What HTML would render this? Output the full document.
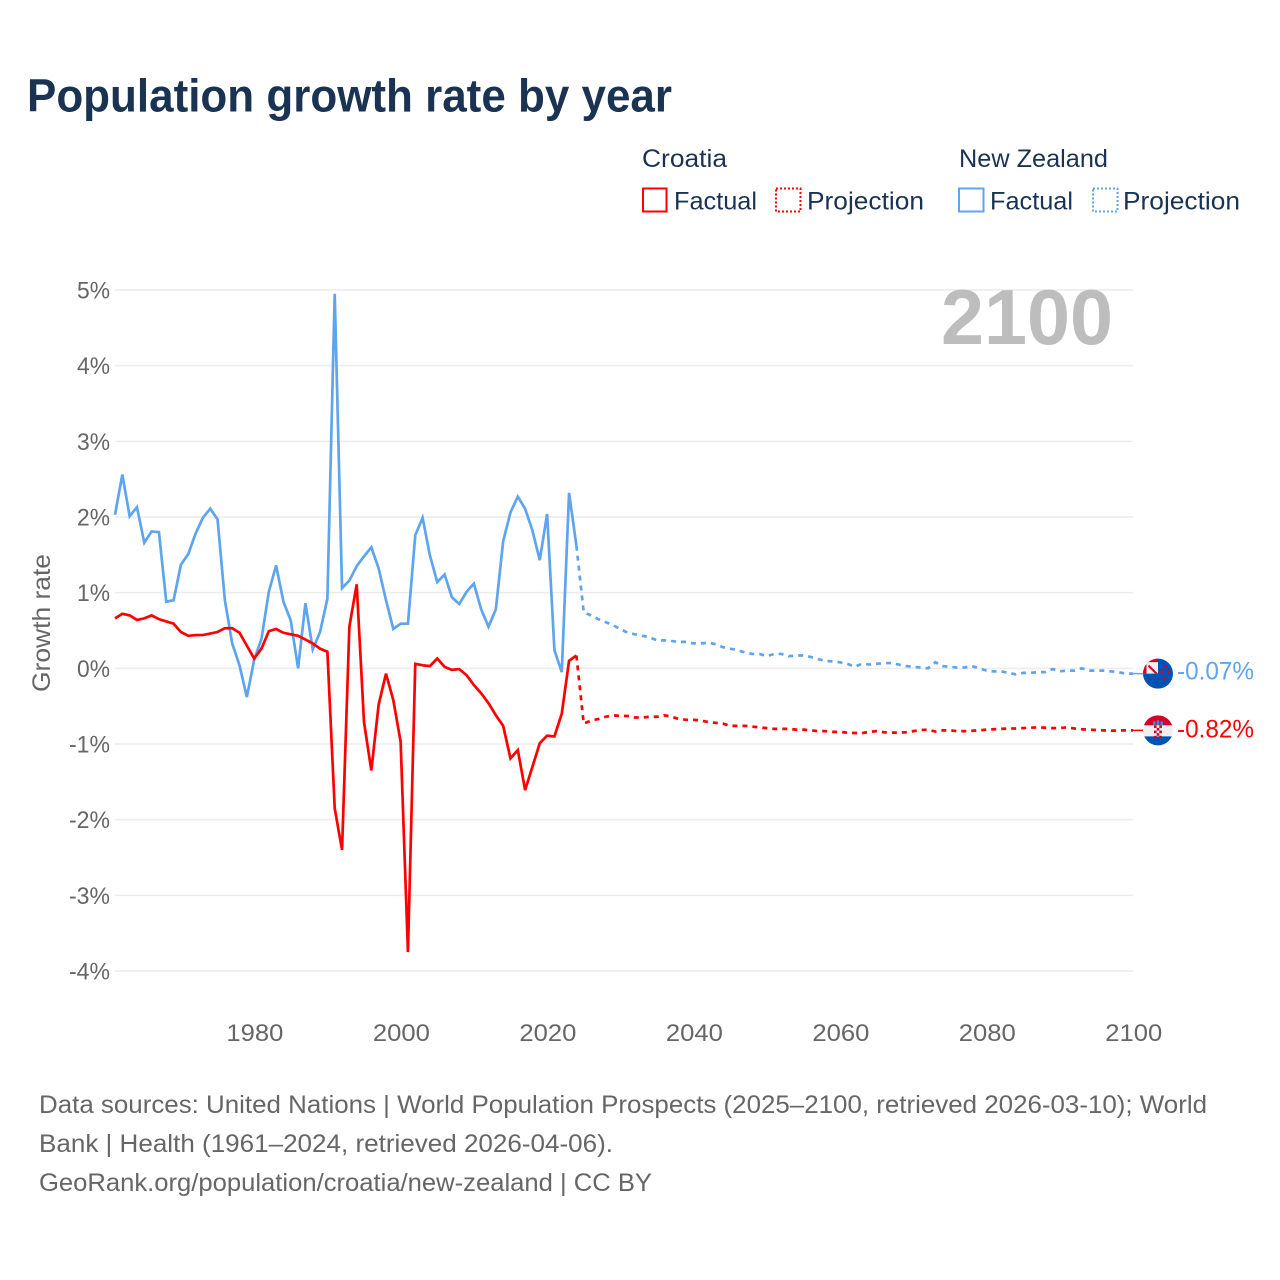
<!DOCTYPE html>
<html lang="en">
<head>
<meta charset="utf-8">
<title>Population growth rate by year</title>
<style>
html,body{margin:0;padding:0;background:#fff;}
svg{display:block;font-family:"Liberation Sans",sans-serif;}
.dark{fill:#1a3353;font-size:25px;}
.foot{fill:#666;font-size:25px;}
.tick{fill:#666;font-size:24.5px;}
</style>
</head>
<body>
<svg id="chart" width="1280" height="1280" viewBox="0 0 1280 1280" xmlns="http://www.w3.org/2000/svg">
  <defs>
    <clipPath id="flag-clip"><circle cx="0" cy="0" r="15"></circle></clipPath>
  </defs>
  <rect x="0" y="0" width="1280" height="1280" fill="#ffffff"></rect>
  <text x="27" y="111.5" font-size="46" font-weight="700" fill="#1a3353" textLength="645" lengthAdjust="spacingAndGlyphs">Population growth rate by year</text>

  <g>
    <text class="dark" x="642" y="167" textLength="85" lengthAdjust="spacingAndGlyphs">Croatia</text>
    <text class="dark" x="959" y="167" textLength="149" lengthAdjust="spacingAndGlyphs">New Zealand</text>
    <g>
      <rect x="643" y="188.5" width="23.5" height="23" fill="none" stroke="#ff0000" stroke-width="2"></rect>
      <text class="dark" x="674" y="209.5" textLength="83" lengthAdjust="spacingAndGlyphs">Factual</text>
    </g>
    <g>
      <rect x="776" y="188.5" width="24.5" height="23" fill="none" stroke="#ff0000" stroke-width="2" stroke-dasharray="2 2"></rect>
      <text class="dark" x="807" y="209.5" textLength="117" lengthAdjust="spacingAndGlyphs">Projection</text>
    </g>
    <g>
      <rect x="959" y="188.5" width="24.5" height="23" fill="none" stroke="#5ea5ee" stroke-width="2"></rect>
      <text class="dark" x="990" y="209.5" textLength="83" lengthAdjust="spacingAndGlyphs">Factual</text>
    </g>
    <g>
      <rect x="1093" y="188.5" width="24.5" height="23" fill="none" stroke="#5ea5ee" stroke-width="2" stroke-dasharray="2 2"></rect>
      <text class="dark" x="1123" y="209.5" textLength="117" lengthAdjust="spacingAndGlyphs">Projection</text>
    </g>
  </g>

  <g id="grid"></g>
  <g id="y-labels"></g>
  <g id="x-labels"></g>

  <text transform="translate(50,623) rotate(-90)" text-anchor="middle" font-size="25" fill="#666" textLength="138" lengthAdjust="spacingAndGlyphs">Growth rate</text>
  <text x="1113" y="344" text-anchor="end" font-size="78" font-weight="700" fill="#bdbdbd" textLength="172" lengthAdjust="spacingAndGlyphs">2100</text>

  <g id="series"></g>

  <g id="flag-nz">
    <g clip-path="url(#flag-clip)">
      <rect x="-16" y="-16" width="32" height="32" fill="#0052b4"></rect>
      <rect x="-16" y="-16" width="16" height="16" fill="#f0f0f0"></rect>
      <rect x="-16" y="-16" width="16" height="4.5" fill="#d80027"></rect>
      <rect x="-16" y="-16" width="4.5" height="16" fill="#d80027"></rect>
      <path d="M-9 -9 L0 0 L-3 0 L-10 -7 Z" fill="#d80027"></path>
      <circle cx="7.5" cy="-7" r="1.4" fill="#d80027"></circle>
      <circle cx="3.5" cy="-2" r="1.4" fill="#d80027"></circle>
      <circle cx="11" cy="-2" r="1.4" fill="#d80027"></circle>
      <circle cx="7" cy="5" r="1.6" fill="#d80027"></circle>
    </g>
  </g>

  <g id="flag-hr">
    <g clip-path="url(#flag-clip)">
      <rect x="-16" y="-16" width="32" height="11" fill="#d80027"></rect>
      <rect x="-16" y="-5" width="32" height="11" fill="#f0f0f0"></rect>
      <rect x="-16" y="6" width="32" height="11" fill="#0052b4"></rect>
      <rect x="-5" y="-9" width="2.5" height="4" fill="#338af3"></rect>
      <rect x="-1.25" y="-10" width="2.5" height="5" fill="#338af3"></rect>
      <rect x="2.5" y="-9" width="2.5" height="4" fill="#338af3"></rect>
      <rect x="-4" y="-5" width="8" height="11" fill="#f0f0f0"></rect>
      <rect x="-4" y="-5" width="2.6" height="2.6" fill="#d80027"></rect>
      <rect x="1.3" y="-5" width="2.6" height="2.6" fill="#d80027"></rect>
      <rect x="-1.3" y="-2.4" width="2.6" height="2.6" fill="#d80027"></rect>
      <rect x="-4" y="0.2" width="2.6" height="2.6" fill="#d80027"></rect>
      <rect x="1.3" y="0.2" width="2.6" height="2.6" fill="#d80027"></rect>
      <rect x="-1.3" y="2.8" width="2.6" height="2.6" fill="#d80027"></rect>
      <rect x="-4" y="5.4" width="2.6" height="2.6" fill="#d80027"></rect>
      <rect x="1.3" y="5.4" width="2.6" height="2.6" fill="#d80027"></rect>
    </g>
  </g>

  <text id="label-nz" font-size="25" fill="#5ea5ee" textLength="77" lengthAdjust="spacingAndGlyphs"></text>
  <text id="label-hr" font-size="25" fill="#ff0000" textLength="77" lengthAdjust="spacingAndGlyphs"></text>

  <g>
    <text class="foot" x="39" y="1113" textLength="1168" lengthAdjust="spacingAndGlyphs">Data sources: United Nations | World Population Prospects (2025–2100, retrieved 2026-03-10); World</text>
    <text class="foot" x="39" y="1152" textLength="574" lengthAdjust="spacingAndGlyphs">Bank | Health (1961–2024, retrieved 2026-04-06).</text>
    <text class="foot" x="39" y="1191" textLength="613" lengthAdjust="spacingAndGlyphs">GeoRank.org/population/croatia/new-zealand | CC BY</text>
  </g>
</svg>

<script>
const firstYear = 1961;
const lastYear = 2100;
const yTicks = [5, 4, 3, 2, 1, 0, -1, -2, -3, -4];
const xTicks = [1980, 2000, 2020, 2040, 2060, 2080, 2100];

// 1961-2024
const nzFactual = [2.03,2.56,2.01,2.13,1.66,1.81,1.80,0.88,0.90,1.37,1.51,1.78,1.99,2.11,1.97,0.90,0.33,0.04,-0.38,0.11,0.39,1.01,1.36,0.88,0.63,0.00,0.86,0.25,0.48,0.92,4.95,1.06,1.16,1.35,1.48,1.60,1.32,0.90,0.52,0.59,0.59,1.76,1.99,1.49,1.14,1.24,0.94,0.85,1.01,1.12,0.78,0.55,0.78,1.68,2.06,2.27,2.11,1.82,1.43,2.04,0.24,-0.05,2.32,1.62];
// 2025-2100
const nzProjection = [0.74,0.70,0.65,0.61,0.57,0.52,0.47,0.45,0.43,0.41,0.37,0.37,0.36,0.35,0.35,0.33,0.33,0.34,0.32,0.28,0.26,0.24,0.21,0.19,0.19,0.16,0.19,0.19,0.16,0.17,0.17,0.15,0.12,0.10,0.09,0.08,0.06,0.02,0.06,0.05,0.06,0.07,0.07,0.05,0.03,0.02,0.01,0.00,0.08,0.03,0.02,0.01,0.01,0.03,0.00,-0.03,-0.04,-0.04,-0.06,-0.08,-0.06,-0.06,-0.05,-0.05,-0.01,-0.04,-0.03,-0.03,0.00,-0.03,-0.03,-0.03,-0.04,-0.05,-0.07,-0.07];
// 1961-2024
const hrFactual = [0.66,0.72,0.70,0.64,0.66,0.70,0.65,0.62,0.59,0.48,0.43,0.44,0.44,0.46,0.48,0.53,0.53,0.47,0.30,0.13,0.26,0.49,0.52,0.47,0.45,0.43,0.38,0.33,0.26,0.22,-1.85,-2.40,0.55,1.11,-0.71,-1.35,-0.48,-0.07,-0.42,-0.97,-3.75,0.06,0.04,0.03,0.13,0.02,-0.02,-0.01,-0.09,-0.22,-0.33,-0.46,-0.62,-0.76,-1.19,-1.08,-1.61,-1.30,-0.99,-0.89,-0.90,-0.60,0.10,0.17];
// 2025-2100
const hrProjection = [-0.73,-0.69,-0.67,-0.64,-0.62,-0.63,-0.63,-0.65,-0.65,-0.64,-0.64,-0.62,-0.64,-0.67,-0.68,-0.68,-0.69,-0.71,-0.72,-0.73,-0.76,-0.76,-0.76,-0.77,-0.78,-0.79,-0.80,-0.80,-0.80,-0.81,-0.81,-0.82,-0.83,-0.83,-0.84,-0.84,-0.85,-0.855,-0.855,-0.84,-0.83,-0.845,-0.85,-0.85,-0.845,-0.83,-0.815,-0.81,-0.835,-0.82,-0.82,-0.83,-0.83,-0.825,-0.82,-0.81,-0.805,-0.80,-0.795,-0.795,-0.79,-0.785,-0.78,-0.785,-0.79,-0.79,-0.78,-0.795,-0.805,-0.81,-0.815,-0.82,-0.825,-0.82,-0.82,-0.82];

const SVG_NS = 'http://www.w3.org/2000/svg';
const plot = { left: 115, right: 1133, top: 290, bottom: 971 };
const redColor = '#ff0000';
const blueColor = '#5ea5ee';

function xScale(year) {
  return plot.left + (year - firstYear) * (plot.right - plot.left) / (lastYear - firstYear);
}
function yScale(value) {
  return plot.top + (yTicks[0] - value) * (plot.bottom - plot.top) / (yTicks[0] - yTicks[yTicks.length - 1]);
}
function pathFrom(values, startYear) {
  return values.map(function (v, i) {
    return (i ? 'L' : 'M') + xScale(startYear + i).toFixed(2) + ' ' + yScale(v).toFixed(2);
  }).join(' ');
}

const gridGroup = document.getElementById('grid');
const yLabelGroup = document.getElementById('y-labels');
yTicks.forEach(function (t) {
  const line = document.createElementNS(SVG_NS, 'line');
  
  
  line.setAttribute('x1', plot.left);
  line.setAttribute('x2', plot.right);
  line.setAttribute('y1', yScale(t));
  line.setAttribute('y2', yScale(t));
  line.setAttribute('stroke', '#ececec');
  line.setAttribute('stroke-width', '1.5');
  gridGroup.appendChild(line);

  const label = document.createElementNS(SVG_NS, 'text');
  
  
  label.setAttribute('class', 'tick');
  label.setAttribute('x', plot.left - 5);
  label.setAttribute('y', yScale(t) + 8.5);
  label.setAttribute('text-anchor', 'end');
  label.setAttribute('textLength', t < 0 ? 41 : 33);
  label.setAttribute('lengthAdjust', 'spacingAndGlyphs');
  label.textContent = t + '%';
  yLabelGroup.appendChild(label);
});

const xLabelGroup = document.getElementById('x-labels');
xTicks.forEach(function (t) {
  const label = document.createElementNS(SVG_NS, 'text');
  
  
  label.setAttribute('class', 'tick');
  label.setAttribute('x', xScale(t) + 0.8);
  label.setAttribute('y', 1041);
  label.setAttribute('text-anchor', 'middle');
  label.setAttribute('textLength', 57);
  label.setAttribute('lengthAdjust', 'spacingAndGlyphs');
  label.textContent = t;
  xLabelGroup.appendChild(label);
});

const seriesGroup = document.getElementById('series');

function addLine(d, color, dashed, width) {
  const p = document.createElementNS(SVG_NS, 'path');
  p.setAttribute('d', d);
  p.setAttribute('fill', 'none');
  p.setAttribute('stroke', color);
  p.setAttribute('stroke-width', width);
  p.setAttribute('stroke-linejoin', 'miter');
  if (dashed) p.setAttribute('stroke-dasharray', '5 5');
  seriesGroup.appendChild(p);
  return p;
}

const factualEndYear = firstYear + nzFactual.length - 1;

const nzFactualLine = addLine(pathFrom(nzFactual, firstYear), blueColor, false, 2.7);



const nzProjectionLine = addLine(pathFrom(nzFactual.slice(-1).concat(nzProjection), factualEndYear), blueColor, true, 2.7);



const hrFactualLine = addLine(pathFrom(hrFactual, firstYear), redColor, false, 2.7);



const hrProjectionLine = addLine(pathFrom(hrFactual.slice(-1).concat(hrProjection), factualEndYear), redColor, true, 2.7);



const nzLast = nzProjection[nzProjection.length - 1];
const hrLast = hrProjection[hrProjection.length - 1];
const flagX = xScale(lastYear) + 25;

const nzConnector = addLine('M' + xScale(lastYear) + ' ' + yScale(nzLast) + ' L' + flagX + ' ' + yScale(nzLast), blueColor, false, 1.5);



const hrConnector = addLine('M' + xScale(lastYear) + ' ' + yScale(hrLast) + ' L' + flagX + ' ' + yScale(hrLast), redColor, false, 1.5);



document.getElementById('flag-nz').setAttribute('transform', 'translate(' + flagX + ',' + yScale(nzLast) + ')');
document.getElementById('flag-hr').setAttribute('transform', 'translate(' + flagX + ',' + yScale(hrLast) + ')');

const nzLabel = document.getElementById('label-nz');
nzLabel.setAttribute('x', flagX + 19);
nzLabel.setAttribute('y', yScale(nzLast) + 6);
nzLabel.textContent = nzLast.toFixed(2) + '%';

const hrLabel = document.getElementById('label-hr');
hrLabel.setAttribute('x', flagX + 19);
hrLabel.setAttribute('y', yScale(hrLast) + 7);
hrLabel.textContent = hrLast.toFixed(2) + '%';
</script>
</body>
</html>
